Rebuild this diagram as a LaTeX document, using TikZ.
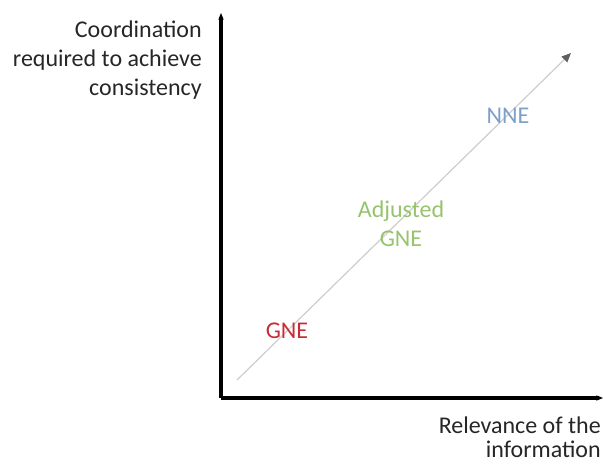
\documentclass[tikz,border=0pt]{standalone}
\usepackage{fontspec}
\setmainfont{Carlito}
\usetikzlibrary{arrows.meta}
\definecolor{gneRed}{RGB}{200,45,55}
\definecolor{adjGreen}{RGB}{150,195,110}
\definecolor{nneBlue}{RGB}{125,160,200}
\definecolor{trendGray}{RGB}{205,205,205}
\definecolor{tipGray}{RGB}{95,95,95}
\begin{document}
\begin{tikzpicture}[x=0.75pt,y=-0.75pt,
  axis/.style={line width=2.4pt,-{Stealth[length=5pt,width=4pt]}},
  trend/.style={draw=trendGray,line width=0.9pt,-{Triangle[length=7pt,width=6pt,color=tipGray]}},
  axlabel/.style={text=black!85,align=right,inner sep=0pt,anchor=base east},
  tag/.style={font=\fontsize{18}{21.5}\selectfont,inner sep=0pt,align=center}]
  \useasboundingbox (0,0) rectangle (603,464);
  % axes
  \coordinate (origin) at (221,398);
  \coordinate (ytop) at (221,13);
  \coordinate (xend) at (603,398);
  \draw[axis] (origin) -- (ytop);
  \draw[axis] (origin) -- (xend);
  % trend line
  \coordinate (tstart) at (237,380);
  \coordinate (tend) at (571,53);
  \draw[trend] (tstart) -- (tend);
  % axis labels (anchored at the baseline of the last line)
  \node[axlabel,font=\fontsize{18}{21.5}\selectfont] (ylab) at (202,95) {Coordination\\required to achieve\\consistency};
  \node[axlabel,font=\fontsize{18}{17.5}\selectfont] (xlab) at (601,457) {Relevance of the\\information};
  % equilibrium labels
  \node[tag,text=gneRed] (gne) at (287,331) {GNE};
  \node[tag,text=adjGreen] (adj) at (401,224) {Adjusted\\GNE};
  \node[tag,text=nneBlue] (nne) at (508,116) {NNE};
\end{tikzpicture}
\end{document}
